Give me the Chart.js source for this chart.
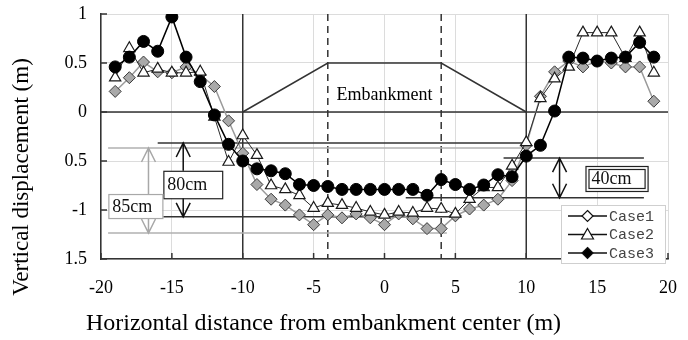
<!DOCTYPE html>
<html>
<head>
<meta charset="utf-8">
<script src="https://cdn.jsdelivr.net/npm/chart.js@4.4.0/dist/chart.umd.min.js"></script>
<style>
  html, body { margin: 0; padding: 0; background: #fff; }
  #wrap { width: 688px; height: 340px; }
</style>
</head>
<body>
<div id="wrap"><canvas id="myChart" width="688" height="340"></canvas></div>
<script>
// horizontal distance from embankment center (m)
var distance = [-19, -18, -17, -16, -15, -14, -13, -12, -11, -10, -9, -8, -7, -6, -5, -4, -3, -2, -1, 0,
  1, 2, 3, 4, 5, 6, 7, 8, 9, 10, 11, 12, 13, 14, 15, 16, 17, 18, 19];

// vertical displacement (m)
var case1 = [0.21, 0.35, 0.51, 0.41, 0.40, 0.46, 0.38, 0.26, -0.09, -0.42, -0.74, -0.89, -0.95, -1.05, -1.15, -1.05, -1.08, -1.04, -1.08, -1.15,
  -1.04, -1.09, -1.19, -1.19, -1.06, -0.99, -0.95, -0.89, -0.70, -0.34, 0.16, 0.41, 0.52, 0.46, 0.52, 0.50, 0.46, 0.46, 0.11];
var case2 = [0.35, 0.65, 0.40, 0.44, 0.40, 0.40, 0.41, -0.05, -0.51, -0.24, -0.44, -0.75, -0.79, -0.85, -0.98, -0.93, -0.95, -0.98, -1.02, -1.05,
  -1.02, -1.03, -0.98, -0.99, -1.04, -0.89, -0.77, -0.77, -0.55, -0.31, 0.14, 0.34, 0.46, 0.81, 0.81, 0.81, 0.55, 0.81, 0.40];
var case3 = [0.46, 0.56, 0.72, 0.62, 0.97, 0.56, 0.31, -0.03, -0.33, -0.50, -0.58, -0.60, -0.63, -0.74, -0.75, -0.76, -0.79, -0.79, -0.79, -0.79,
  -0.79, -0.79, -0.85, -0.69, -0.74, -0.79, -0.745, -0.64, -0.66, -0.45, -0.34, 0.01, 0.56, 0.55, 0.52, 0.55, 0.56, 0.71, 0.56];

var seriesNames = ["Case1", "Case2", "Case3"];

var yTicks = [1, 0.5, 0, -0.5, -1, -1.5];
var yTickLabels = ["1", "0.5", "0", "0.5", "-1", "1.5"];

// embankment outline
var embankmentX = [-10, -4, 4, 10];
var embankmentY = [0, 0.5, 0.5, 0];
var toeX = [-10, 10];
var crestX = [-4, 4];

// settlement difference marks: [xStart, xEnd, y]
var mark80 = [[-16.0, 10.1, -0.316], [-15.6, 5.4, -1.07]];
var mark85 = [[-19.5, 10.1, -0.367], [-19.5, 4.4, -1.235]];
var mark40 = [[8.4, 18.3, -0.47], [1.5, 18.3, -0.875]];
var arrowX = [-14.2, -16.65, 12.35];
var boxLabels = ["80cm", "85cm", "40cm"];
// label boxes: [x1, x2, y1, y2]
var boxes = [[-15.6, -11.45, -0.60, -0.88], [-19.48, -15.67, -0.837, -1.082], [14.18, 18.56, -0.551, -0.806]];

function toPoints(ys) {
  return distance.map(function (d, i) {
    return { x: d, y: ys[i] };
  });
}

var SERIF = "'Liberation Serif', 'Times New Roman', serif";

function drawArrow(ctx, x, y1, y2, color) {
  var head = 14, half = 7;
  ctx.save();
  ctx.strokeStyle = color;
  ctx.lineWidth = 1.5;
  ctx.beginPath();
  ctx.moveTo(x, y1);
  ctx.lineTo(x, y2);
  ctx.moveTo(x - half, y1 + head);
  ctx.lineTo(x, y1);
  ctx.lineTo(x + half, y1 + head);
  ctx.moveTo(x - half, y2 - head);
  ctx.lineTo(x, y2);
  ctx.lineTo(x + half, y2 - head);
  ctx.stroke();
  ctx.restore();
}

var overlay = {
  id: "overlay",
  beforeDatasetsDraw: function (chart) {
    var ctx = chart.ctx, xs = chart.scales.x, ys = chart.scales.y, area = chart.chartArea;
    ctx.save();
    ctx.strokeStyle = "#333";
    ctx.lineWidth = 1.5;
    // ground line
    ctx.beginPath();
    ctx.moveTo(area.left, ys.getPixelForValue(0));
    ctx.lineTo(area.right, ys.getPixelForValue(0));
    ctx.stroke();
    // embankment toes
    toeX.forEach(function (v) {
      ctx.beginPath();
      ctx.moveTo(xs.getPixelForValue(v), area.top);
      ctx.lineTo(xs.getPixelForValue(v), area.bottom);
      ctx.stroke();
    });
    // crest (dashed)
    ctx.setLineDash([7, 5]);
    crestX.forEach(function (v) {
      ctx.beginPath();
      ctx.moveTo(xs.getPixelForValue(v), area.top);
      ctx.lineTo(xs.getPixelForValue(v), area.bottom);
      ctx.stroke();
    });
    ctx.setLineDash([]);
    // embankment shape
    ctx.beginPath();
    embankmentX.forEach(function (v, i) {
      var px = xs.getPixelForValue(v), py = ys.getPixelForValue(embankmentY[i]);
      if (i === 0) ctx.moveTo(px, py); else ctx.lineTo(px, py);
    });
    ctx.stroke();

    // horizontal reference lines
    function hline(m, color) {
      ctx.strokeStyle = color;
      ctx.lineWidth = 1.5;
      ctx.beginPath();
      ctx.moveTo(xs.getPixelForValue(m[0]), ys.getPixelForValue(m[2]));
      ctx.lineTo(xs.getPixelForValue(m[1]), ys.getPixelForValue(m[2]));
      ctx.stroke();
    }
    mark85.forEach(function (m) { hline(m, "#b0b0b0"); });
    mark80.forEach(function (m) { hline(m, "#333"); });
    mark40.forEach(function (m) { hline(m, "#333"); });

    ctx.fillStyle = "#000";
    ctx.font = "18px " + SERIF;
    ctx.textAlign = "center";
    ctx.textBaseline = "middle";
    ctx.fillText("Embankment", xs.getPixelForValue(0), ys.getPixelForValue(0.17));
    ctx.restore();
  },
  afterDatasetsDraw: function (chart) {
    var ctx = chart.ctx, xs = chart.scales.x, ys = chart.scales.y, area = chart.chartArea;
    ctx.save();
    // inward tick marks
    ctx.strokeStyle = "#333";
    ctx.lineWidth = 1.5;
    ys.ticks.forEach(function (t) {
      var py = ys.getPixelForValue(t.value);
      ctx.beginPath();
      ctx.moveTo(area.left, py);
      ctx.lineTo(area.left + 6, py);
      ctx.stroke();
    });
    xs.ticks.forEach(function (t) {
      var px = xs.getPixelForValue(t.value);
      ctx.beginPath();
      ctx.moveTo(px, area.bottom);
      ctx.lineTo(px, area.bottom - 6);
      ctx.stroke();
    });

    // arrows
    drawArrow(ctx, xs.getPixelForValue(arrowX[1]), ys.getPixelForValue(mark85[0][2]), ys.getPixelForValue(mark85[1][2]), "#a8a8a8");
    drawArrow(ctx, xs.getPixelForValue(arrowX[0]), ys.getPixelForValue(mark80[0][2]), ys.getPixelForValue(mark80[1][2]), "#111");
    drawArrow(ctx, xs.getPixelForValue(arrowX[2]), ys.getPixelForValue(mark40[0][2]), ys.getPixelForValue(mark40[1][2]), "#111");

    // label boxes
    ctx.font = "18px " + SERIF;
    ctx.textBaseline = "middle";
    ctx.textAlign = "left";
    boxes.forEach(function (b, i) {
      var x1 = xs.getPixelForValue(b[0]), x2 = xs.getPixelForValue(b[1]);
      var y1 = ys.getPixelForValue(b[2]), y2 = ys.getPixelForValue(b[3]);
      ctx.fillStyle = "#fff";
      ctx.fillRect(x1, y1, x2 - x1, y2 - y1);
      ctx.lineWidth = 1.2;
      ctx.strokeStyle = i === 1 ? "#a8a8a8" : "#222";
      ctx.strokeRect(x1 + 0.5, y1 + 0.5, x2 - x1, y2 - y1);
      if (i === 2) {
        ctx.strokeRect(x1 + 3.5, y1 + 3.5, x2 - x1 - 6, y2 - y1 - 6);
      }
      ctx.fillStyle = "#111";
      ctx.fillText(boxLabels[i], x1 + (i === 2 ? 6 : 4), (y1 + y2) / 2 + 1);
    });
    ctx.restore();
  },
  afterDraw: function (chart) {
    var ctx = chart.ctx, area = chart.chartArea;
    ctx.save();
    // legend
    var lx = area.right - 107, ly = area.bottom - 54, lw = 104, lh = 58;
    ctx.fillStyle = "#fff";
    ctx.fillRect(lx, ly, lw, lh);
    ctx.strokeStyle = "#cfcfcf";
    ctx.lineWidth = 1;
    ctx.strokeRect(lx + 0.5, ly + 0.5, lw, lh);
    var styles = [
      { shape: "diamond", fill: "#fff" },
      { shape: "triangle", fill: "#fff" },
      { shape: "diamond", fill: "#000" }
    ];
    ctx.font = "15px 'Liberation Mono', 'Courier New', monospace";
    ctx.textBaseline = "middle";
    ctx.textAlign = "left";
    seriesNames.forEach(function (name, i) {
      var cy = ly + 11 + i * 18.5;
      var x0 = lx + 7, x1 = lx + 46, cx = lx + 26.5;
      ctx.strokeStyle = "#111";
      ctx.lineWidth = 1.5;
      ctx.beginPath();
      ctx.moveTo(x0, cy);
      ctx.lineTo(x1, cy);
      ctx.stroke();
      ctx.fillStyle = styles[i].fill;
      ctx.lineWidth = 1.2;
      ctx.beginPath();
      if (styles[i].shape === "diamond") {
        ctx.moveTo(cx, cy - 5.5);
        ctx.lineTo(cx + 5.5, cy);
        ctx.lineTo(cx, cy + 5.5);
        ctx.lineTo(cx - 5.5, cy);
      } else {
        ctx.moveTo(cx, cy - 6);
        ctx.lineTo(cx + 6, cy + 4.5);
        ctx.lineTo(cx - 6, cy + 4.5);
      }
      ctx.closePath();
      ctx.fill();
      ctx.stroke();
      ctx.fillStyle = "#444";
      ctx.fillText(name, lx + 48, cy + 1);
    });

    // axis titles
    ctx.fillStyle = "#000";
    ctx.font = "24px " + SERIF;
    ctx.textAlign = "center";
    ctx.textBaseline = "middle";
    ctx.fillText("Horizontal distance from embankment center (m)", 323.5, 324);
    ctx.font = "23px " + SERIF;
    ctx.translate(22, 177);
    ctx.rotate(-Math.PI / 2);
    ctx.fillText("Vertical displacement (m)", 0, 0);
    ctx.restore();
  }
};

var ctx = document.getElementById("myChart");
window.chart = new Chart(ctx, {
  type: "line",
  data: {
    datasets: [
      {
        label: seriesNames[0],
        data: toPoints(case1),
        borderColor: "#9a9a9a",
        borderWidth: 1.5,
        pointStyle: "rectRot",
        pointRadius: 6,
        pointBackgroundColor: "#a9a9a9",
        pointBorderColor: "#3a3a3a",
        pointBorderWidth: 1,
        tension: 0,
        order: 2
      },
      {
        label: seriesNames[1],
        data: toPoints(case2),
        borderColor: "#2a2a2a",
        borderWidth: 1,
        pointStyle: "triangle",
        pointRadius: 6.5,
        pointBackgroundColor: "#fff",
        pointBorderColor: "#1a1a1a",
        pointBorderWidth: 1.2,
        tension: 0,
        order: 1
      },
      {
        label: seriesNames[2],
        data: toPoints(case3),
        borderColor: "#000",
        borderWidth: 1.5,
        pointStyle: "circle",
        pointRadius: 6,
        pointBackgroundColor: "#000",
        pointBorderColor: "#000",
        pointBorderWidth: 1,
        tension: 0,
        order: 0
      }
    ]
  },
  options: {
    responsive: false,
    animation: false,
    devicePixelRatio: 1,
    layout: { padding: { top: 14, right: 20, left: 0, bottom: 0 } },
    plugins: {
      legend: { display: false },
      tooltip: { enabled: false }
    },
    scales: {
      x: {
        type: "linear",
        min: -20,
        max: 20,
        afterFit: function (scale) {
          scale.height = 81;
          scale.paddingLeft = 0;
          scale.paddingRight = 0;
        },
        ticks: {
          stepSize: 5,
          autoSkip: false,
          maxRotation: 0,
          padding: 18,
          color: "#000",
          font: { family: SERIF, size: 18 }
        },
        grid: { color: "#dcdcdc", lineWidth: 1, drawTicks: false },
        border: { color: "#333", width: 1.5 }
      },
      y: {
        type: "linear",
        min: -1.5,
        max: 1,
        afterFit: function (scale) {
          scale.width = 101;
          scale.paddingTop = 0;
          scale.paddingBottom = 0;
        },
        ticks: {
          stepSize: 0.5,
          autoSkip: false,
          padding: 14,
          color: "#000",
          font: { family: SERIF, size: 18 },
          callback: function (value) {
            var i = yTicks.indexOf(Math.round(value * 10) / 10);
            return i < 0 ? "" : yTickLabels[i];
          }
        },
        grid: { color: "#dcdcdc", lineWidth: 1, drawTicks: false },
        border: { color: "#333", width: 1.5 }
      }
    }
  },
  plugins: [overlay]
});
</script>
</body>
</html>
